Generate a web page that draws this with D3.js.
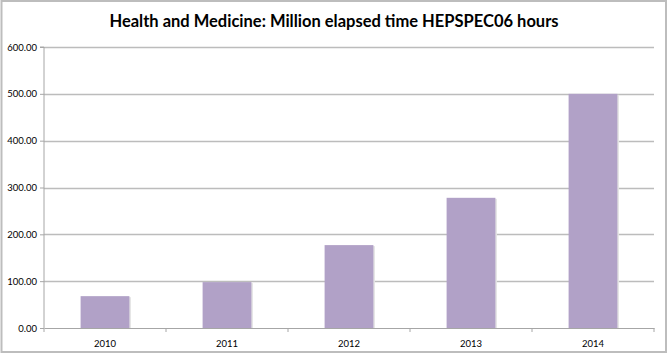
<!DOCTYPE html>
<html>
<head>
<meta charset="utf-8">
<script src="https://cdn.jsdelivr.net/npm/d3@7"></script>
<style>
  body { margin: 0; background: #fff; }
  text { font-family: Lato, "Open Sans", sans-serif; fill: #000; }
</style>
</head>
<body>
<div id="chart"></div>
<script>
// Data
const years = ["2010", "2011", "2012", "2013", "2014"];
const hours = [68, 98, 177, 278, 500];
const yTicks = [0, 100, 200, 300, 400, 500, 600];

const width = 668;
const height = 354;
const margin = { top: 47, right: 14, bottom: 26, left: 44 };

const svg = d3.select("#chart")
  .append("svg")
    .attr("width", width)
    .attr("height", height);

// Outer chart border
svg.append("rect")
  .attr("x", 1.5).attr("y", 1)
  .attr("width", 664.5).attr("height", 351)
  .attr("fill", "none")
  .attr("stroke", "#bdbdbd")
  .attr("stroke-width", 2);

// Title
svg.append("text")
  .attr("x", 334)
  .attr("y", 27)
  .attr("text-anchor", "middle")
  .style("font-size", "16.5px")
  .style("font-weight", "bold")
  .text("Health and Medicine: Million elapsed time HEPSPEC06 hours");

const x = d3.scaleBand()
  .domain(years)
  .range([margin.left, width - margin.right])
  .paddingInner(0.6)
  .paddingOuter(0.3);

const y = d3.scaleLinear()
  .domain([0, 600])
  .range([height - margin.bottom, margin.top]);

// Gridlines
svg.append("g")
  .selectAll("line")
  .data(yTicks.filter(d => d > 0))
  .join("line")
    .attr("x1", margin.left)
    .attr("x2", width - margin.right)
    .attr("y1", d => Math.round(y(d)) + 0.5)
    .attr("y2", d => Math.round(y(d)) + 0.5)
    .attr("stroke", "#bcbcbc")
    .attr("stroke-width", 1.5);

// Bar shadows
svg.append("g")
  .selectAll("rect")
  .data(hours)
  .join("rect")
    .attr("x", (d, i) => x(years[i]) + 1.5)
    .attr("y", d => y(d) + 1)
    .attr("width", x.bandwidth())
    .attr("height", d => y(0) - y(d) - 1)
    .attr("fill", "#e4e4e4");

// Bars
svg.append("g")
  .selectAll("rect")
  .data(hours)
  .join("rect")
    .attr("x", (d, i) => x(years[i]))
    .attr("y", d => y(d))
    .attr("width", x.bandwidth())
    .attr("height", d => y(0) - y(d))
    .attr("fill", "#b1a1c7");

// Y axis
const yAxis = svg.append("g")
  .attr("transform", `translate(${margin.left},0)`)
  .call(d3.axisLeft(y).tickValues(yTicks).tickSize(4).tickFormat(d3.format(".2f")));
yAxis.select(".domain").attr("stroke", "#a6a6a6").attr("d", `M-4,${y(600)}H0V${y(0)}`);
yAxis.selectAll(".tick line").attr("stroke", "#a6a6a6");
yAxis.selectAll(".tick text")
  .attr("x", -7)
  .style("font-size", "9.5px")
  .style("font-family", "Lato, sans-serif");

// X axis
const xAxis = svg.append("g")
  .attr("transform", `translate(0,${y(0)})`)
  .call(d3.axisBottom(x).tickSize(0).tickPadding(12));
xAxis.select(".domain").attr("stroke", "#a6a6a6");
xAxis.selectAll(".tick text")
  .style("font-size", "9.5px")
  .style("font-family", "Lato, sans-serif");

// Category boundary ticks
const step = x.step();
svg.append("g")
  .selectAll("line")
  .data(d3.range(years.length + 1))
  .join("line")
    .attr("x1", i => margin.left + i * step)
    .attr("x2", i => margin.left + i * step)
    .attr("y1", y(0))
    .attr("y2", y(0) + 4)
    .attr("stroke", "#a6a6a6");
</script>
</body>
</html>
